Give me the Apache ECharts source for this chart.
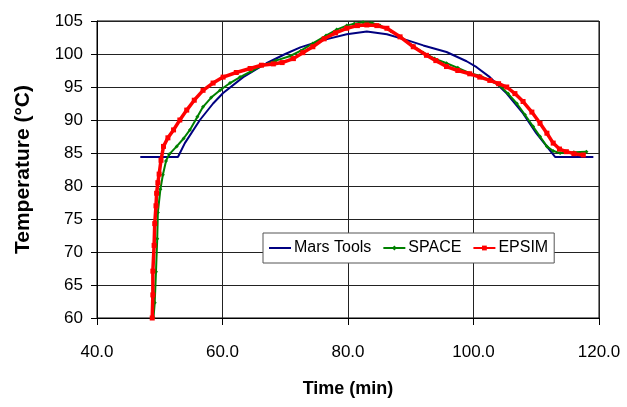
<!DOCTYPE html>
<html>
<head>
    <meta charset="utf-8" />
    <title>Temperature vs Time</title>
    <script src="https://cdnjs.cloudflare.com/ajax/libs/echarts/6.0.0/echarts.min.js"></script>
    <style>
        body, html {
            margin: 0;
            padding: 0;
            background: #fff;
        }
        #chart {
            width: 627px;
            height: 407px;
        }
    </style>
</head>
<body>
<div id="chart"></div>
<script type="text/javascript">
    // Mars Tools
    var marsTime = [46.9, 52.9, 54.0, 56.4, 58.5, 60.1, 63.3, 67.0, 70.0, 72.4, 76.0, 79.8, 83.0, 86.2, 89.4, 92.0, 95.7, 98.9, 100.5, 102.6, 105.3, 107.9, 110.0, 113.0, 119.1];
    var marsTemp = [84.4, 84.4, 86.5, 90.0, 92.5, 94.1, 96.5, 98.6, 100.0, 101.0, 102.1, 103.0, 103.4, 103.0, 102.1, 101.3, 100.3, 98.9, 98.0, 96.5, 94.0, 91.0, 88.0, 84.4, 84.4];

    // SPACE
    var spaceTime = [49.0, 49.2, 49.4, 49.6, 49.7, 50.1, 50.5, 51.0, 51.5, 52.7, 53.8, 54.8, 56.0, 56.9, 58.2, 59.6, 61.2, 62.8, 64.6, 66.5, 68.5, 70.8, 72.5, 74.4, 76.5, 78.2, 79.8, 81.0, 82.4, 83.8, 85.1, 86.8, 88.5, 90.4, 92.0, 93.8, 95.7, 97.5, 99.4, 101.0, 102.6, 104.2, 105.5, 106.9, 108.2, 109.5, 110.6, 111.7, 112.7, 113.8, 116.0, 118.0];
    var spaceTemp = [60.0, 62.3, 67.0, 72.0, 76.0, 79.5, 81.7, 83.8, 84.8, 86.0, 87.2, 88.5, 90.5, 92.0, 93.4, 94.5, 95.6, 96.5, 97.4, 98.3, 99.0, 99.7, 100.5, 101.6, 102.8, 103.7, 104.3, 104.6, 104.8, 104.7, 104.3, 103.5, 102.5, 101.2, 100.2, 99.3, 98.6, 97.9, 97.1, 96.7, 96.0, 95.2, 94.0, 92.5, 90.8, 89.0, 87.5, 86.0, 85.3, 85.0, 85.1, 85.2];

    // EPSIM
    var epsimTime = [48.8, 48.9, 48.9, 49.1, 49.2, 49.4, 49.5, 49.7, 49.9, 50.2, 50.6, 51.3, 52.2, 53.2, 54.3, 55.5, 56.9, 58.5, 60.1, 62.2, 64.4, 66.2, 68.1, 69.5, 71.3, 72.8, 74.4, 76.2, 78.0, 79.8, 81.5, 83.0, 84.6, 86.2, 88.3, 90.4, 92.5, 94.0, 95.7, 97.5, 99.4, 101.0, 102.6, 104.0, 105.3, 106.6, 107.9, 109.3, 110.6, 111.7, 112.7, 113.7, 114.8, 116.0, 117.5];
    var epsimTemp = [60.0, 63.5, 67.1, 71.0, 74.3, 77.0, 78.9, 80.5, 81.8, 83.9, 86.0, 87.3, 88.5, 90.0, 91.5, 93.0, 94.5, 95.6, 96.5, 97.2, 97.8, 98.3, 98.5, 98.7, 99.3, 100.2, 101.1, 102.3, 103.2, 103.9, 104.3, 104.4, 104.3, 103.9, 102.6, 101.1, 99.8, 99.0, 98.1, 97.5, 97.0, 96.5, 96.0, 95.5, 95.0, 94.0, 92.8, 91.2, 89.5, 88.0, 86.5, 85.6, 85.2, 84.9, 84.7];

    function pairs(xs, ys) {
        return xs.map(function (x, i) { return [x, ys[i]]; });
    }

    var chart = echarts.init(document.getElementById('chart'));
    var fontFamily = 'Liberation Sans, Arial, sans-serif';

    var option = {
        animation: false,
        backgroundColor: '#fff',
        textStyle: { fontFamily: fontFamily },
        grid: {
            left: 97,
            right: 28,
            top: 21,
            bottom: 89,
            show: true,
            borderColor: '#000',
            borderWidth: 1
        },
        legend: {
            left: 263,
            top: 233,
            padding: [7, 6],
            itemGap: 11,
            itemWidth: 22,
            itemHeight: 6,
            symbolKeepAspect: true,
            backgroundColor: '#fff',
            borderColor: '#555',
            borderWidth: 1,
            borderRadius: 0,
            textStyle: { fontSize: 16, color: '#000', fontFamily: fontFamily, padding: [0, 0, 0, -2] },
            data: [
                { name: 'Mars Tools', icon: 'path://M0,0h22v2h-22z' },
                { name: 'SPACE' },
                { name: 'EPSIM' }
            ]
        },
        xAxis: {
            type: 'value',
            min: 40,
            max: 120,
            interval: 20,
            name: 'Time (min)',
            nameLocation: 'middle',
            nameGap: 62,
            nameTextStyle: { fontSize: 18, fontWeight: 'bold', color: '#000' },
            axisLine: { lineStyle: { color: '#000' } },
            axisTick: { show: true, length: 7, lineStyle: { color: '#000' } },
            axisLabel: {
                fontSize: 17,
                color: '#000',
                margin: 26,
                formatter: function (v) { return v.toFixed(1); }
            },
            splitLine: { show: true, lineStyle: { color: '#222', width: 1 } }
        },
        yAxis: {
            type: 'value',
            min: 60,
            max: 105,
            interval: 5,
            name: 'Temperature (°C)',
            nameLocation: 'middle',
            nameRotate: 90,
            nameGap: 63,
            nameTextStyle: { fontSize: 21, fontWeight: 'bold', color: '#000' },
            axisLine: { show: true, lineStyle: { color: '#000' } },
            axisTick: { show: true, length: 6, lineStyle: { color: '#000' } },
            axisLabel: { fontSize: 17, color: '#000', margin: 14 },
            splitLine: { show: true, lineStyle: { color: '#222', width: 1 } }
        },
        series: [
            {
                name: 'Mars Tools',
                type: 'line',
                data: pairs(marsTime, marsTemp),
                showSymbol: false,
                symbol: 'none',
                lineStyle: { color: '#000080', width: 2 },
                itemStyle: { color: '#000080' },
                z: 2
            },
            {
                name: 'SPACE',
                type: 'line',
                data: pairs(spaceTime, spaceTemp),
                symbol: 'diamond',
                symbolSize: 4,
                lineStyle: { color: '#008000', width: 2 },
                itemStyle: { color: '#008000' },
                z: 3
            },
            {
                name: 'EPSIM',
                type: 'line',
                data: pairs(epsimTime, epsimTemp),
                symbol: 'rect',
                symbolSize: 5,
                lineStyle: { color: '#ff0000', width: 3.5 },
                itemStyle: { color: '#ff0000' },
                z: 4
            }
        ]
    };
    chart.setOption(option);
</script>
</body>
</html>
